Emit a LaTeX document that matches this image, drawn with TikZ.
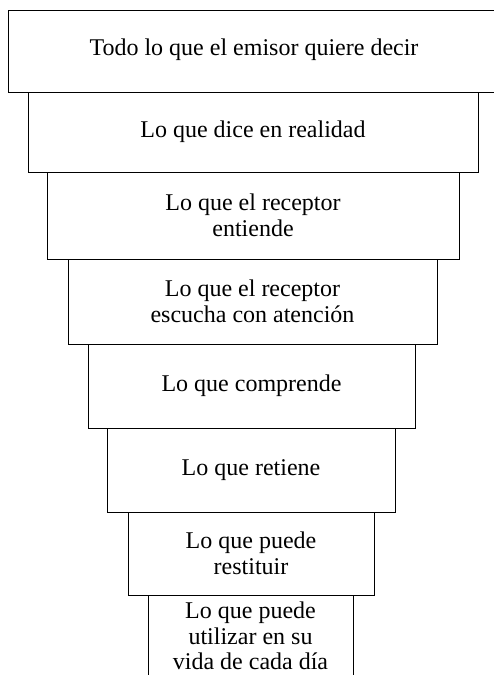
\documentclass[tikz,border=0pt]{standalone}
\usepackage{fontspec}
\setmainfont{Liberation Serif}
\begin{document}
\begin{tikzpicture}[x=1pt,y=-1pt,
  lvl/.style={draw=black, line width=0.9pt, inner sep=0pt, align=center,
    font=\fontsize{24}{25.5}\selectfont},
  txt/.style={inner sep=0pt, align=center, font=\fontsize{24}{25.5}\selectfont},
  edge/.style={line width=0.9pt}]
\useasboundingbox (0,0) rectangle (494,675);
\node[txt] (t1) at (254,50) {Todo lo que el emisor quiere decir};
\coordinate (b1tl) at (8,10);
\coordinate (b1tr) at (494,10);
\coordinate (b1bl) at (8,92);
\coordinate (b1br) at (494,92);
\draw[edge] (b1tr) -- (b1tl) -- (b1bl) -- (b1br);
\node[lvl, minimum width=450pt, minimum height=80pt] (b2) at (253,132) {Lo que dice en realidad};
\node[lvl, minimum width=412pt, minimum height=87pt] (b3) at (253,215.5) {Lo que el receptor\\entiende};
\node[lvl, minimum width=369pt, minimum height=85pt] (b4) at (252.5,301.5) {Lo que el receptor\\escucha con atención};
\node[lvl, minimum width=327pt, minimum height=84pt] (b5) at (251.5,386) {Lo que comprende};
\node[lvl, minimum width=288pt, minimum height=84pt] (b6) at (251,470) {Lo que retiene};
\node[lvl, minimum width=246pt, minimum height=83pt] (b7) at (251,553.5) {Lo que puede\\restituir};
\node[txt] (b8) at (250.5,636) {Lo que puede\\utilizar en su\\vida de cada día};
\coordinate (b8tl) at (148,595);
\coordinate (b8tr) at (353,595);
\coordinate (b8bl) at (148,680);
\coordinate (b8br) at (353,680);
\draw[edge] (b8bl) -- (b8tl) -- (b8tr) -- (b8br);
\end{tikzpicture}
\end{document}
